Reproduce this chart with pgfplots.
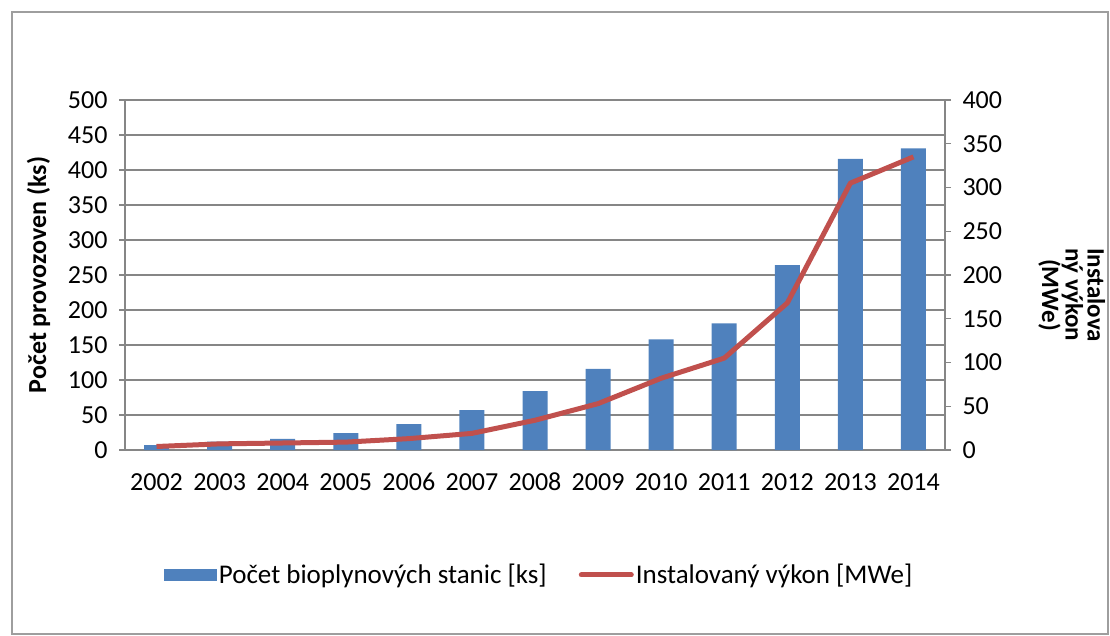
\documentclass[border=0pt]{standalone}
\usepackage{fontspec}
\setmainfont{Carlito}
\usepackage{pgfplots}
\pgfplotsset{compat=1.18}
\definecolor{barblue}{RGB}{79,129,189}
\definecolor{linered}{RGB}{192,80,77}
\definecolor{gridgray}{RGB}{134,134,134}
\begin{document}
\begin{tikzpicture}[x=1pt,y=1pt]
\useasboundingbox (0,0) rectangle (1110,635);
\draw[gridgray!80, line width=1.5pt] (12,1) rectangle (1108,623);
\begin{axis}[
  at={(125pt,185pt)}, anchor=south west, scale only axis,
  width=820pt, height=350pt,
  xmin=-0.5, xmax=12.5, ymin=0, ymax=500,
  ytick={0,50,...,500},
  xtick={0,...,12},
  xticklabels={2002,2003,2004,2005,2006,2007,2008,2009,2010,2011,2012,2013,2014},
  axis y line*=left, axis x line*=bottom,
  ymajorgrids, grid style={gridgray, line width=1.3pt},
  axis line style={gridgray, line width=1.5pt, -},
  tick align=outside, major tick length=6pt,
  y tick style={gridgray, line width=1.3pt},
  x tick style={draw=none},
  /pgf/number format/assume math mode=true,
  font=\fontsize{26}{31}\selectfont,
  ticklabel style={font=\fontsize{26}{31}\selectfont},
  yticklabel style={xshift=-8pt},
  xticklabel style={yshift=-14pt, text height=17pt, text depth=0pt},
  ylabel={\textbf{Počet provozoven (ks)}},
  ylabel style={at={(axis description cs:-0.1055,0.5)}, anchor=center},
  legend style={at={(axis description cs:0.505,-0.357)}, anchor=center,
    legend columns=2, draw=none, fill=none,
    font=\fontsize{27}{31}\selectfont,
    /tikz/every even column/.append style={column sep=30pt},
    nodes={inner sep=2pt}},
]
\addplot[ybar, bar width=25pt, fill=barblue, draw=none,
  legend image code/.code={\fill[barblue] (0pt,-6pt) rectangle (53pt,6pt);}]
  coordinates {(0,7) (1,12) (2,16) (3,24) (4,37) (5,57) (6,84) (7,116) (8,158) (9,181) (10,264) (11,416) (12,431)};
\addlegendentry{Počet bioplynových stanic [ks]}
\addlegendimage{linered, line width=5pt,
  legend image code/.code={\draw[linered, line width=5pt, line cap=round] (0pt,0pt) -- (50pt,0pt);}}
\addlegendentry{Instalovaný výkon [MWe]}
\end{axis}
\begin{axis}[
  at={(125pt,185pt)}, anchor=south west, scale only axis,
  width=820pt, height=350pt,
  xmin=-0.5, xmax=12.5, ymin=0, ymax=400,
  ytick={0,50,...,400},
  axis y line*=right, axis x line=none,
  axis line style={gridgray, line width=1.5pt, -},
  tick align=outside, major tick length=6pt,
  y tick style={gridgray, line width=1.3pt},
  /pgf/number format/assume math mode=true,
  font=\fontsize{26}{31}\selectfont,
  ticklabel style={font=\fontsize{26}{31}\selectfont},
  yticklabel style={xshift=8pt},
  ylabel={\textbf{Instalova}\\\textbf{ný výkon}\\\textbf{(MWe)}},
  ylabel style={at={(axis description cs:1.1545,0.443)}, anchor=center, rotate=180, align=center, font=\fontsize{25}{22}\selectfont},
]
\addplot[linered, line width=5pt, line join=round]
  coordinates {(0,4) (1,7) (2,8) (3,9) (4,13) (5,19) (6,34) (7,53) (8,82) (9,105) (10,168) (11,305) (12,335)};
\end{axis}
\end{tikzpicture}
\end{document}
